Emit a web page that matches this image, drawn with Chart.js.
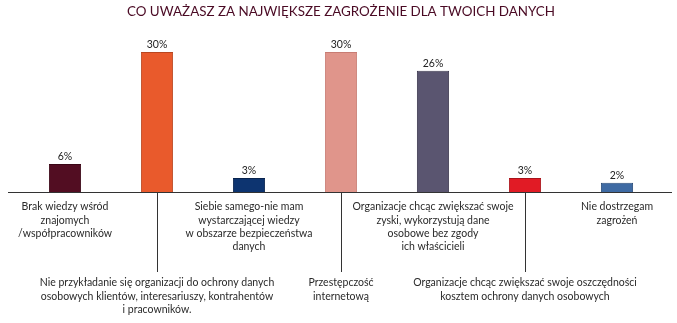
<!DOCTYPE html>
<html>
<head>
<meta charset="utf-8">
<script src="https://cdn.jsdelivr.net/npm/chart.js@4/dist/chart.umd.min.js"></script>
<style>
  body { margin: 0; background: #fff; }
  #wrap { width: 677px; height: 323px; }
</style>
</head>
<body>
<div id="wrap"><canvas id="chart" width="677" height="323"></canvas></div>
<script>
    // Chart data
    const categories = [
        ['Brak wiedzy wśród', 'znajomych', '/współpracowników'],
        ['Nie przykładanie się organizacji do ochrony danych', 'osobowych klientów, interesariuszy, kontrahentów', 'i pracowników.'],
        ['Siebie samego-nie mam', 'wystarczającej wiedzy', 'w obszarze bezpieczeństwa', 'danych'],
        ['Przestępczość', 'internetową'],
        ['Organizacje chcąc zwiększać swoje', 'zyski, wykorzystują dane', 'osobowe bez zgody', 'ich właścicieli'],
        ['Organizacje chcąc zwiększać swoje oszczędności', 'kosztem ochrony danych osobowych'],
        ['Nie dostrzegam', 'zagrożeń']
    ];
    const values = [6, 30, 3, 30, 26, 3, 2];
    const valueLabels = ['6%', '30%', '3%', '30%', '26%', '3%', '2%'];
    const barColors = ['#520d22', '#e95a2c', '#0d3470', '#e0958b', '#5a5570', '#e11b25', '#3e6aa3'];
    const borderColors = ['#3a0616', '#b94620', '#08234d', '#c87c73', '#3f3b52', '#a8141b', '#2c4e7a'];

    const FONT = 'Lato, "Noto Sans", sans-serif';

    // Draws baseline, value labels, category texts and leader lines
    const labelsPlugin = {
        id: 'labelsPlugin',
        afterDatasetsDraw(chart) {
            const ctx = chart.ctx;
            const area = chart.chartArea;
            const xScale = chart.scales.x;
            const meta = chart.getDatasetMeta(0);
            const base = area.bottom;

            ctx.save();
            // baseline
            ctx.strokeStyle = '#333';
            ctx.lineWidth = 1;
            ctx.beginPath();
            ctx.moveTo(8, base + 0.5);
            ctx.lineTo(672, base + 0.5);
            ctx.stroke();

            // value labels above bars
            ctx.fillStyle = '#222';
            ctx.font = '10.5px ' + FONT;
            ctx.textAlign = 'center';
            ctx.textBaseline = 'bottom';
            meta.data.forEach((bar, i) => {
                ctx.fillText(valueLabels[i], bar.x, bar.y - 2);
            });

            // category labels
            ctx.textBaseline = 'middle';
            ctx.fillStyle = '#2a2a2a';
            categories.forEach((lines, i) => {
                const x = xScale.getPixelForValue(i);
                let y0 = base + 15;
                if (i % 2 === 1) {
                    // leader line down to lower label row
                    ctx.strokeStyle = '#333';
                    ctx.beginPath();
                    ctx.moveTo(Math.round(x) + 0.5, base);
                    ctx.lineTo(Math.round(x) + 0.5, base + 80);
                    ctx.stroke();
                    y0 = base + 91;
                }
                lines.forEach((line, j) => {
                    ctx.fillText(line, x, y0 + j * 13.2);
                });
            });
            ctx.restore();
        }
    };

    const ctx = document.getElementById('chart').getContext('2d');
    const chart = new Chart(ctx, {
        type: 'bar',
        data: {
            labels: categories.map(c => c.join(' ')),
            datasets: [{
                data: values,
                backgroundColor: barColors,
                borderColor: borderColors,
                borderWidth: 1,
                barPercentage: 0.35,
                categoryPercentage: 1
            }]
        },
        options: {
            responsive: false,
            animation: false,
            layout: {
                padding: { left: 19, right: 14, top: 0, bottom: 131 }
            },
            plugins: {
                legend: { display: false },
                tooltip: { enabled: false },
                title: {
                    display: true,
                    text: 'CO UWAŻASZ ZA NAJWIĘKSZE ZAGROŻENIE DLA TWOICH DANYCH',
                    color: '#4a0a24',
                    font: { family: FONT, size: 13.4, weight: 'normal' },
                    padding: { top: 4, bottom: 32 }
                }
            },
            scales: {
                x: { display: false },
                y: { display: false, min: 0, max: 30 }
            }
        },
        plugins: [labelsPlugin]
    });
</script>
</body>
</html>
